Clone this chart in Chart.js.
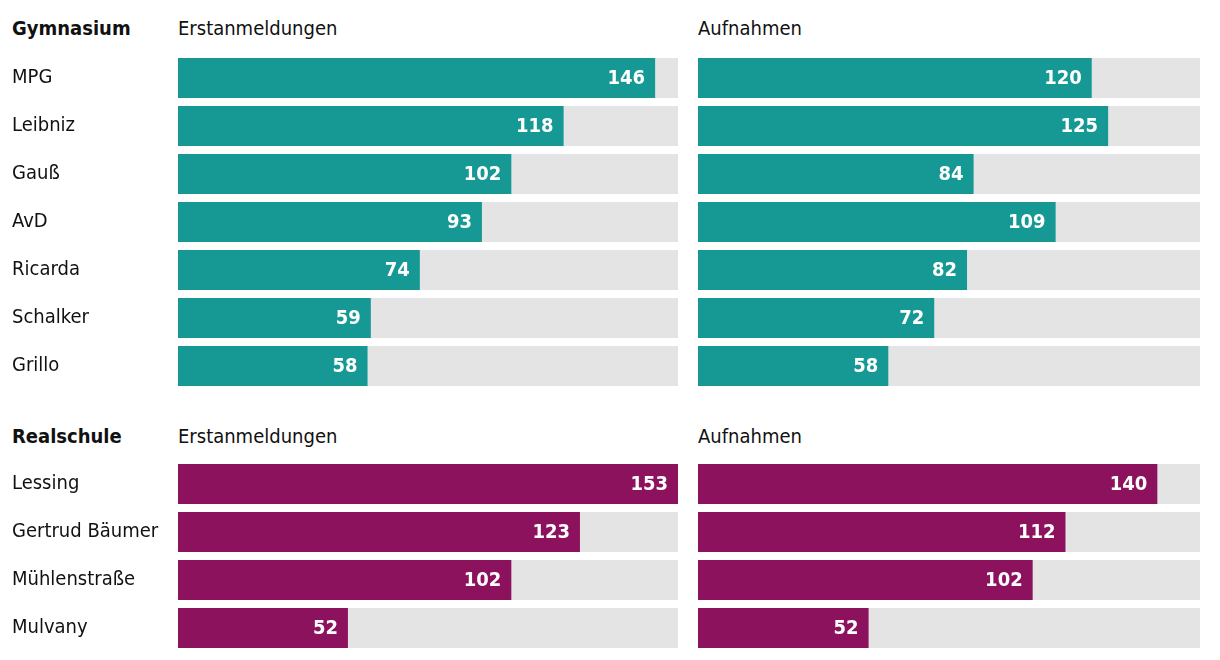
<!DOCTYPE html>
<html>
<head>
<meta charset="utf-8">
<script src="https://cdn.jsdelivr.net/npm/chart.js@4"></script>
<style>
  body { margin: 0; background: #fff; width: 1220px; height: 660px; overflow: hidden; position: relative;
         font-family: "DejaVu Sans Condensed", "Liberation Sans Narrow", "Roboto", sans-serif; color: #111; }
  .hdr { position: absolute; font-size: 20px; line-height: 24px; }
  .bold { font-weight: bold; }
  canvas { position: absolute; }
</style>
</head>
<body>
<div class="hdr bold" style="left:12px; top:16px;">Gymnasium</div>
<div class="hdr" style="left:178px; top:16px;">Erstanmeldungen</div>
<div class="hdr" style="left:698px; top:16px;">Aufnahmen</div>
<div class="hdr bold" style="left:12px; top:424px;">Realschule</div>
<div class="hdr" style="left:178px; top:424px;">Erstanmeldungen</div>
<div class="hdr" style="left:698px; top:424px;">Aufnahmen</div>

<div style="position:absolute; left:0; top:54px; width:678px; height:336px;"><canvas id="gymAnm"></canvas></div>
<div style="position:absolute; left:698px; top:54px; width:502px; height:336px;"><canvas id="gymAuf"></canvas></div>
<div style="position:absolute; left:0; top:460px; width:678px; height:192px;"><canvas id="realAnm"></canvas></div>
<div style="position:absolute; left:698px; top:460px; width:502px; height:192px;"><canvas id="realAuf"></canvas></div>

<script>
// Schulen und Werte
const gymSchools = ['MPG', 'Leibniz', 'Gauß', 'AvD', 'Ricarda', 'Schalker', 'Grillo'];
const gymAnmeldungen = [146, 118, 102, 93, 74, 59, 58];
const gymAufnahmen = [120, 125, 84, 109, 82, 72, 58];

const realSchools = ['Lessing', 'Gertrud Bäumer', 'Mühlenstraße', 'Mulvany'];
const realAnmeldungen = [153, 123, 102, 52];
const realAufnahmen = [140, 112, 102, 52];

const maxValue = 153; // all bars scaled to the largest value
const fontFamily = '"DejaVu Sans Condensed", "Liberation Sans Narrow", "Roboto", sans-serif';

// white value labels inside the end of each bar
const valueLabels = {
    id: 'valueLabels',
    afterDatasetsDraw(chart) {
        const ctx = chart.ctx;
        const meta = chart.getDatasetMeta(0);
        ctx.save();
        ctx.fillStyle = '#ffffff';
        ctx.font = 'bold 20px ' + fontFamily;
        ctx.textAlign = 'right';
        ctx.textBaseline = 'middle';
        meta.data.forEach((bar, i) => {
            ctx.fillText(chart.data.datasets[0].data[i], bar.x - 10, bar.y + 1);
        });
        ctx.restore();
    }
};

function makeChart(id, labels, values, color, showLabels) {
    new Chart(document.getElementById(id), {
        type: 'bar',
        data: {
            labels: labels,
            datasets: [
                { data: values, backgroundColor: color, barPercentage: 40 / 48, categoryPercentage: 1 },
                { data: labels.map(() => maxValue), backgroundColor: '#e4e4e4', barPercentage: 40 / 48, categoryPercentage: 1 }
            ]
        },
        options: {
            indexAxis: 'y',
            responsive: true,
            maintainAspectRatio: false,
            animation: false,
            layout: { padding: { left: showLabels ? 12 : 0, right: 0, top: 0, bottom: 0 } },
            datasets: { bar: { grouped: false } },
            plugins: { legend: { display: false }, tooltip: { enabled: false } },
            scales: {
                x: { display: false, min: 0, max: maxValue },
                y: {
                    display: showLabels,
                    grid: { display: false },
                    border: { display: false },
                    ticks: { crossAlign: 'far', padding: 0, color: '#111', font: { family: fontFamily, size: 20 } },
                    afterFit: (scale) => {
                        if (!showLabels) return;
                        scale.width = 166;
                        scale.paddingTop = 0;
                        scale.paddingBottom = 0;
                    }
                }
            }
        },
        plugins: [valueLabels]
    });
}

makeChart('gymAnm', gymSchools, gymAnmeldungen, '#169894', true);
makeChart('gymAuf', gymSchools, gymAufnahmen, '#169894', false);
makeChart('realAnm', realSchools, realAnmeldungen, '#8c125e', true);
makeChart('realAuf', realSchools, realAufnahmen, '#8c125e', false);
</script>
</body>
</html>
